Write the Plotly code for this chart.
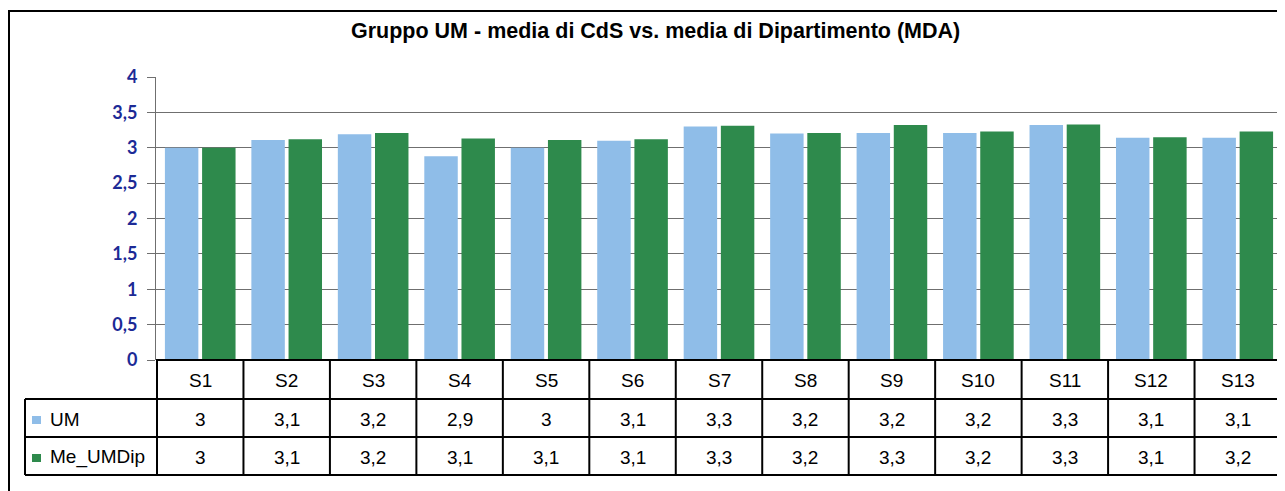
import plotly.graph_objects as go

categories = ["S1", "S2", "S3", "S4", "S5", "S6", "S7", "S8", "S9", "S10", "S11", "S12", "S13"]
um_values = [3.0, 3.11, 3.19, 2.88, 3.0, 3.10, 3.30, 3.20, 3.21, 3.21, 3.32, 3.14, 3.14]
me_values = [3.0, 3.12, 3.21, 3.13, 3.11, 3.12, 3.31, 3.21, 3.32, 3.23, 3.33, 3.15, 3.23]
series_names = ["UM", "Me_UMDip"]
title_text = "Gruppo UM - media di CdS vs. media di Dipartimento (MDA)"

UM_COLOR = "#8fbde8"
ME_COLOR = "#2e8a4c"
OFF = 8  # page body margin offset
W, H = 1285 - OFF, 491 - OFF
ML, MR, MT, MB = 156 - OFF, 3, 77 - OFF, 131
PW = W - ML - MR
PH = H - MT - MB


def px_x(px):
    return (px - OFF - ML) / PW


def px_y(py):
    return (H - MB - (py - OFF)) / PH


def fmt(v):
    s = f"{v:.1f}"
    if s.endswith(".0"):
        s = s[:-2]
    return s.replace(".", ",")


fig = go.Figure()
fig.add_trace(go.Bar(x=categories, y=um_values, name=series_names[0],
                     marker=dict(color=UM_COLOR, line=dict(width=0))))
fig.add_trace(go.Bar(x=categories, y=me_values, name=series_names[1],
                     marker=dict(color=ME_COLOR, line=dict(width=0))))

shapes = []
annotations = []
LINE = dict(color="black", width=2)

# table horizontal lines
y_rows = [360, 399, 437, 475]
for i, py in enumerate(y_rows):
    x0 = 156 if i == 0 else 25
    shapes.append(dict(type="line", xref="paper", yref="paper",
                       x0=px_x(x0), x1=px_x(1282), y0=px_y(py), y1=px_y(py), line=LINE))
# table vertical lines at category boundaries
n = len(categories)
for i in range(n + 1):
    shapes.append(dict(type="line", xref="x", yref="paper",
                       x0=i - 0.5, x1=i - 0.5, y0=px_y(360), y1=px_y(475), line=LINE))
# row label column left edge
shapes.append(dict(type="line", xref="paper", yref="paper",
                   x0=px_x(25), x1=px_x(25), y0=px_y(399), y1=px_y(475), line=LINE))

# outer border
shapes.append(dict(type="rect", xref="paper", yref="paper",
                   x0=px_x(9), x1=px_x(1290), y0=px_y(495), y1=px_y(11),
                   line=dict(color="black", width=2), fillcolor="rgba(0,0,0,0)", layer="below"))

tfont = dict(family="Liberation Sans, Arial, sans-serif", size=19, color="black")
for i, c in enumerate(categories):
    annotations.append(dict(x=c, y=px_y(380), xref="x", yref="paper", text=c,
                            showarrow=False, font=tfont, xanchor="center", yanchor="middle"))
    annotations.append(dict(x=c, y=px_y(419), xref="x", yref="paper", text=fmt(um_values[i]),
                            showarrow=False, font=tfont, xanchor="center", yanchor="middle"))
    annotations.append(dict(x=c, y=px_y(457), xref="x", yref="paper", text=fmt(me_values[i]),
                            showarrow=False, font=tfont, xanchor="center", yanchor="middle"))

# row labels with swatches
for name, color, py in [(series_names[0], UM_COLOR, 420), (series_names[1], ME_COLOR, 458)]:
    shapes.append(dict(type="rect", xref="paper", yref="paper",
                       x0=px_x(32), x1=px_x(41), y0=px_y(py + 4), y1=px_y(py - 4),
                       fillcolor=color, line=dict(width=0)))
    annotations.append(dict(x=px_x(48), y=px_y(py - 1), xref="paper", yref="paper", text=name,
                            showarrow=False, font=tfont, xanchor="left", yanchor="middle"))

# title
annotations.append(dict(x=px_x(655), y=px_y(31), xref="paper", yref="paper", text="<b>" + title_text + "</b>",
                        showarrow=False, font=dict(family="Liberation Sans, Arial, sans-serif", size=21.5, color="black"),
                        xanchor="center", yanchor="middle"))

fig.update_layout(
    width=W, height=H,
    margin=dict(l=ML, r=MR, t=MT, b=MB),
    paper_bgcolor="white", plot_bgcolor="white",
    showlegend=False,
    barmode="group", bargap=0.14, bargroupgap=0.1,
    separators=",.",
    shapes=shapes, annotations=annotations,
    xaxis=dict(showticklabels=False, showgrid=False, zeroline=False, showline=False, ticks=""),
    yaxis=dict(range=[0, 4], dtick=0.5, showgrid=True, gridcolor="#6f6f6f", gridwidth=1,
               zeroline=False, showline=True, linecolor="#6f6f6f", linewidth=1,
               ticks="outside", ticklen=8, tickcolor="#6f6f6f", ticklabelstandoff=6,
               tickfont=dict(family="Lato, Open Sans, sans-serif", size=18, color="#1c2a96", weight="bold")),
)

fig.write_html("out.html")
